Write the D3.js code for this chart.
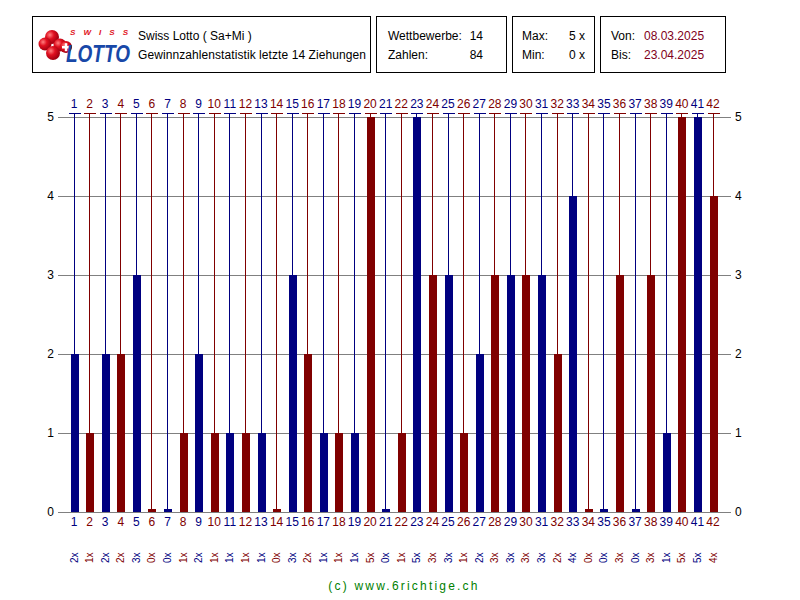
<!DOCTYPE html>
<html><head><meta charset="utf-8">
<script src="https://cdn.jsdelivr.net/npm/d3@7"></script>
<style>body{margin:0;background:#fff}svg{display:block;font-family:"Liberation Sans",Arial,sans-serif}</style>
</head><body><svg id="c" width="800" height="600"></svg>
<script>
const numbers = d3.range(1, 43);
const counts = [2,1,2,2,3,0,0,1,2,1,1,1,1,0,3,2,1,1,1,5,0,1,5,3,3,1,2,3,3,3,3,2,4,0,0,3,0,3,1,5,5,4];
const yTicks = [0,1,2,3,4,5];
const title1 = "Swiss Lotto ( Sa+Mi )";
const title2 = "Gewinnzahlenstatistik letzte 14 Ziehungen";
const stats = [["Wettbewerbe:", "14"], ["Zahlen:", "84"]];
const minmax = [["Max:", "5 x"], ["Min:", "0 x"]];
const dates = [["Von:", "08.03.2025"], ["Bis:", "23.04.2025"]];

const BLUE = "#000080", RED = "#800000";
const col = n => n % 2 ? BLUE : RED;
const svg = d3.select("#c");

// header boxes
const boxes = [[32,16,338,56],[376,16,130,56],[512,16,82,56],[600,16,125,56]];
svg.selectAll("rect.box").data(boxes).join("rect").attr("class","box")
  .attr("x",d=>d[0]+0.5).attr("y",d=>d[1]+0.5).attr("width",d=>d[2]).attr("height",d=>d[3])
  .attr("fill","none").attr("stroke","#000").attr("stroke-width",1);

// logo
const lg = svg.append("g");
const grad = svg.append("defs").append("radialGradient").attr("id","ball").attr("cx","35%").attr("cy","35%").attr("r","65%");
grad.append("stop").attr("offset","0%").attr("stop-color","#ff8080");
grad.append("stop").attr("offset","45%").attr("stop-color","#e01020");
grad.append("stop").attr("offset","100%").attr("stop-color","#a00010");
[[52,37,7],[45,44,6.5],[60,45,6.5],[53,53,7],[66,47,6]].forEach(b=>{
  lg.append("circle").attr("cx",b[0]).attr("cy",b[1]).attr("r",b[2]).attr("fill","url(#ball)");
});
lg.append("rect").attr("x",62).attr("y",46).attr("width",8).attr("height",2.5).attr("fill","#fff");
lg.append("rect").attr("x",64.8).attr("y",43.2).attr("width",2.5).attr("height",8).attr("fill","#fff");
lg.append("text").attr("x",70).attr("y",35).attr("fill","#e01020").attr("font-size",8).attr("font-weight","bold")
  .attr("font-style","italic").attr("textLength",58).attr("lengthAdjust","spacing").text("SWISS");
lg.append("text").attr("x",66).attr("y",62).attr("fill","#1848a8").attr("font-size",24).attr("font-weight","bold")
  .attr("font-style","italic").attr("textLength",64).attr("lengthAdjust","spacingAndGlyphs").text("LOTTO");

svg.append("text").attr("x",138).attr("y",40).attr("font-size",12).text(title1);
svg.append("text").attr("x",138).attr("y",59).attr("font-size",12).attr("textLength",228).text(title2);

function pairs(data, x1, x2, vcol){
  data.forEach((p,i)=>{
    svg.append("text").attr("x",x1).attr("y",40+i*19).attr("font-size",12).text(p[0]);
    svg.append("text").attr("x",x2).attr("y",40+i*19).attr("font-size",12).attr("text-anchor","end").attr("fill",vcol).text(p[1]);
  });
}
pairs(stats, 388, 483, "#000");
pairs(minmax, 522, 585, "#000");
dates.forEach((p,i)=>{
  svg.append("text").attr("x",611).attr("y",40+i*19).attr("font-size",12).text(p[0]);
  svg.append("text").attr("x",644).attr("y",40+i*19).attr("font-size",12).attr("fill","#800020").text(p[1]);
});

// scales
const x = d3.scalePoint().domain(numbers).range([73.5, 712.5]);
const y = d3.scaleLinear().domain([0,5]).range([512,117]);

// gridlines
svg.selectAll("line.grid").data(yTicks).join("line").attr("class","grid")
  .attr("x1",58).attr("x2",731).attr("y1",d=>Math.round(y(d))+0.5).attr("y2",d=>Math.round(y(d))+0.5)
  .attr("stroke","#808080");
// axes labels
const axL = d3.axisLeft(y).tickValues(yTicks).tickSize(0).tickPadding(0).tickFormat(d3.format("d"));
const gL = svg.append("g").attr("transform","translate(54,0)").call(axL);
gL.select(".domain").remove();
gL.selectAll("text").attr("font-size",12).attr("font-family","Liberation Sans, Arial, sans-serif").attr("fill","#000");
const axR = d3.axisRight(y).tickValues(yTicks).tickSize(0).tickPadding(0).tickFormat(d3.format("d"));
const gR = svg.append("g").attr("transform","translate(735,0)").call(axR);
gR.select(".domain").remove();
gR.selectAll("text").attr("font-size",12).attr("font-family","Liberation Sans, Arial, sans-serif").attr("fill","#000");

const data = numbers.map((n,i)=>({n, v:counts[i]}));
const topY = 113;
// stems
svg.selectAll("line.stem").data(data).join("line").attr("class","stem")
  .attr("x1",d=>Math.round(x(d.n))+0.5).attr("x2",d=>Math.round(x(d.n))+0.5)
  .attr("y1",topY).attr("y2",d=>y(d.v)).attr("stroke",d=>col(d.n));
svg.selectAll("line.cap").data(data).join("line").attr("class","cap")
  .attr("x1",d=>Math.round(x(d.n))-5).attr("x2",d=>Math.round(x(d.n))+7)
  .attr("y1",topY+0.5).attr("y2",topY+0.5).attr("stroke",d=>col(d.n));
// bars
svg.selectAll("rect.bar").data(data).join("rect").attr("class","bar")
  .attr("x",d=>Math.round(x(d.n))-3).attr("width",8)
  .attr("y",d=>d.v>0 ? y(d.v) : y(0)-3).attr("height",d=>d.v>0 ? y(0)-y(d.v) : 3)
  .attr("fill",d=>col(d.n));

// number labels
[108, 526].forEach(yy=>{
  svg.append("g").selectAll("text").data(data).join("text")
    .attr("x",d=>x(d.n)+0.5).attr("y",yy).attr("text-anchor","middle").attr("font-size",12)
    .attr("fill",d=>col(d.n)).text(d=>d.n);
});
// count labels rotated
svg.append("g").selectAll("text").data(data).join("text")
  .attr("transform",d=>`translate(${x(d.n)+4},563) rotate(-90)`)
  .attr("font-size",10).attr("fill",d=>col(d.n)).text(d=>d.v+"x");

svg.append("text").attr("x",404).attr("y",590).attr("text-anchor","middle").attr("font-size",12)
  .attr("letter-spacing",2.2).attr("fill","#008000").text("(c) www.6richtige.ch");
</script></body></html>
